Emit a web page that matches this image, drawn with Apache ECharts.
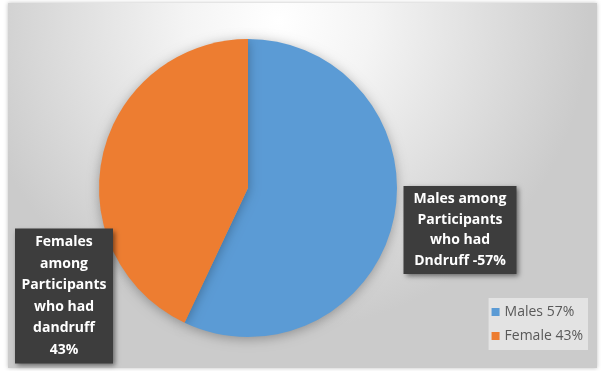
<!DOCTYPE html>
<html>
<head>
<meta charset="utf-8">
<script src="https://cdn.jsdelivr.net/npm/echarts@6/dist/echarts.min.js"></script>
<style>
  html, body { margin: 0; padding: 0; background: #ffffff; }
  #chart { width: 601px; height: 371px; }
</style>
</head>
<body>
<div id="chart"></div>
<script>
// legend names and values
var names = ["Males 57%", "Female 43%"];
var values = [57, 43];
var colors = ["#5B9BD5", "#ED7D31"];
// callout texts
var callouts = [
  "Males among\nParticipants\nwho had\nDndruff -57%",
  "Females\namong\nParticipants\nwho had\ndandruff\n43%"
];

var myChart = echarts.init(document.getElementById("chart"));

var boxPos = [
  { x: 460, y: 230, w: 103, lh: 20.5 },   // males box
  { x: 64, y: 296, w: 88, lh: 21.5 }      // females box
];

var pieData = values.map(function (v, i) {
  return {
    name: names[i],
    value: v,
    itemStyle: { color: colors[i] },
    label: {
      formatter: callouts[i],
      width: boxPos[i].w,
      lineHeight: boxPos[i].lh
    }
  };
});

var option = {
  animation: false,
  graphic: [
    {
      type: "rect",
      z: -10,
      silent: true,
      shape: { x: 8, y: 3, width: 589, height: 365 },
      style: {
        fill: {
          type: "radial",
          x: 0.46,
          y: 0.05,
          r: 0.85,
          colorStops: [
            { offset: 0, color: "#ffffff" },
            { offset: 0.3, color: "#f4f4f4" },
            { offset: 1, color: "#cbcbcb" }
          ]
        },
        shadowBlur: 4,
        shadowColor: "rgba(0,0,0,0.25)"
      }
    }
  ],
  legend: {
    orient: "vertical",
    right: 13,
    top: 298,
    data: names,
    backgroundColor: "#e3e3e3",
    padding: [7, 5, 7, 3],
    itemGap: 10,
    itemWidth: 8,
    itemHeight: 8,
    icon: "rect",
    textStyle: {
      fontFamily: "Open Sans",
      fontSize: 14,
      color: "#595959"
    }
  },
  series: [
    {
      type: "pie",
      center: [248, 188],
      radius: 149,
      startAngle: 90,
      clockwise: true,
      data: pieData,
      itemStyle: {
        shadowBlur: 12,
        shadowColor: "rgba(0,0,0,0.3)",
        shadowOffsetY: 2
      },
      emphasis: { disabled: true },
      labelLine: { show: false },
      label: {
        show: true,
        position: "outside",
        color: "#ffffff",
        fontFamily: "Open Sans",
        fontWeight: "bold",
        fontSize: 14,
        align: "center",
        backgroundColor: "#3d3d3d",
        padding: [3, 5, 3, 5],
        shadowBlur: 5,
        shadowColor: "rgba(0,0,0,0.5)",
        shadowOffsetX: 2,
        shadowOffsetY: 2
      },
      labelLayout: function (params) {
        var p = boxPos[params.dataIndex];
        return {
          x: p.x,
          y: p.y,
          align: "center",
          verticalAlign: "middle"
        };
      }
    }
  ]
};
myChart.setOption(option);
</script>
</body>
</html>
